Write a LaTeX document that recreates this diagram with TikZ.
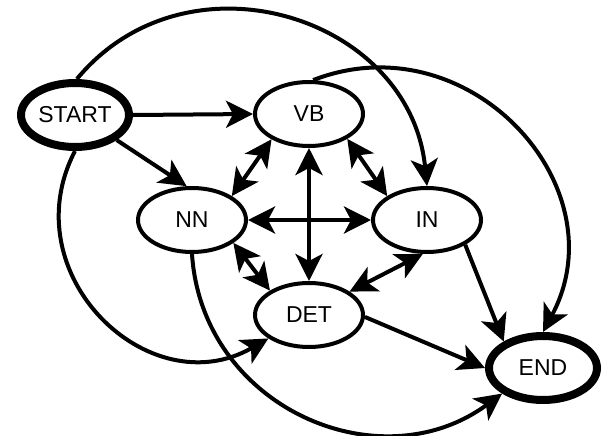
\documentclass[tikz,border=0pt]{standalone}
\usepackage{fontspec}
\setmainfont{Liberation Sans}
\usetikzlibrary{shapes.geometric,arrows.meta}
\begin{document}
\begin{tikzpicture}[x=1pt,y=-1pt,
  state/.style={ellipse,draw,line width=4pt,minimum width=108pt,minimum height=64pt,inner sep=0pt,font=\fontsize{23}{23}\selectfont},
  term/.style={state,line width=8pt},
  edge/.style={line width=4pt,-{Stealth[length=27pt,width=27pt,inset=7pt]}},
  biedge/.style={line width=4pt,{Stealth[length=27pt,width=27pt,inset=7pt]}-{Stealth[length=27pt,width=27pt,inset=7pt]}}]
\useasboundingbox (0,0) rectangle (605,436);
\node[term] (START) at (75,115) {START};
\node[state] (VB) at (309,114) {VB};
\node[state] (NN) at (192,220) {NN};
\node[state] (IN) at (427,220) {IN};
\node[state] (DET) at (309,315) {DET};
\node[term] (END) at (543,368) {END};
\draw[edge] (START.east) -- (VB.west);
\draw[edge] (START.329) -- (NN.99);
\draw[biedge] (VB.214) -- (NN.31);
\draw[biedge] (VB.327) -- (IN.149);
\draw[biedge] (VB.south) -- (DET.north);
\draw[biedge] (NN.east) -- (IN.west);
\draw[biedge] (NN.331) -- (DET.148);
\draw[biedge] (IN.263) -- (DET.30);
\draw[edge] (IN.327) -- (END.146);
\draw[edge] (DET.358) -- (END.west);
\draw[edge] (START.87) .. controls (187,-54) and (410,16) .. (IN.north);
\draw[edge] (VB.83) .. controls (468,20) and (621,186) .. (END.north);
\draw[edge] (START.south) .. controls (11,274) and (149,407) .. (DET.210);
\draw[edge] (NN.south) .. controls (202,407) and (379,484) .. (END.212);
\end{tikzpicture}
\end{document}
